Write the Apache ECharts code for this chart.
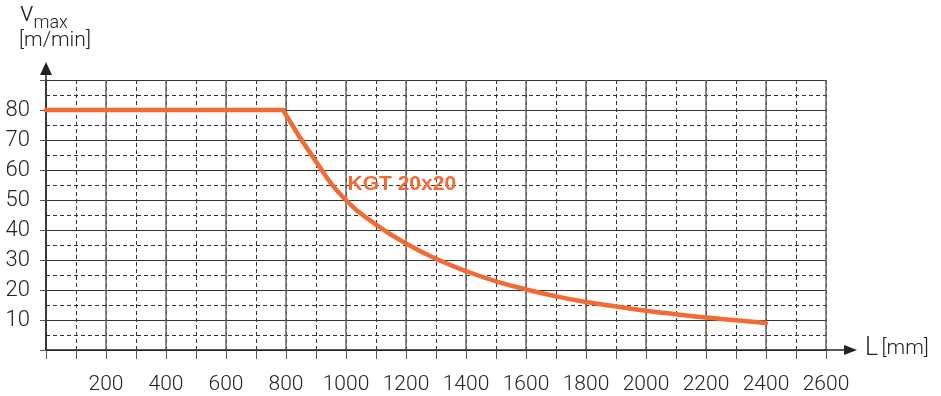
<!DOCTYPE html>
<html lang="en">
<head>
    <meta charset="UTF-8">
    <title>KGT 20x20</title>
    <style>
        body,html{
            margin: 0;
            height: 100%;
            width: 100%;
            background: #fff;
        }
    </style>
</head>
<body>
<div id="main" style="width:941px; height:396px;"></div>
<script src="https://cdn.jsdelivr.net/npm/echarts@6/dist/echarts.min.js"></script>
<script>
    // length L [mm] -> vmax [m/min]
    var flatL = [0, 790];
    var flatV = [80, 80];
    var curveL = [790, 900, 1000, 1100, 1200, 1300, 1400, 1500, 1600, 1700, 1800, 1900, 2000, 2100, 2200, 2300, 2400];
    var curveV = [80, 62.8, 49.9, 41.8, 35.5, 30.4, 26.3, 22.9, 20.2, 17.9, 16.0, 14.5, 13.1, 11.9, 10.8, 9.9, 9.0];
    var seriesName = 'KGT 20x20';
    var xTicks = [200, 400, 600, 800, 1000, 1200, 1400, 1600, 1800, 2000, 2200, 2400, 2600];
    var yTicks = [10, 20, 30, 40, 50, 60, 70, 80];

    var orange = '#F26B35';
    var ink = '#222';
    var font = 'Roboto';

    function pairs(xs, ys) {
        return xs.map(function (x, i) { return [x, ys[i]]; });
    }

    var myChart = echarts.init(document.getElementById('main'));
    myChart.setOption({
        animation: false,
        grid: {left: 46, right: 115, top: 80, bottom: 46},
        xAxis: [
            {
                type: 'value', min: 0, max: 2600, interval: 100,
                axisLine: {show: false},
                axisTick: {show: true, length: 9, lineStyle: {color: '#555', width: 1}},
                axisLabel: {show: false},
                splitLine: {show: true, lineStyle: {color: '#333', type: [4, 3], width: 1}}
            },
            {
                type: 'value', min: 0, max: 2600, interval: 200, position: 'bottom',
                axisLine: {show: true, onZero: false, lineStyle: {color: ink, width: 1.5}},
                axisTick: {show: false},
                axisLabel: {
                    margin: 24, fontSize: 21, fontFamily: font, fontWeight: 300, color: ink,
                    formatter: function (v) { return xTicks.indexOf(v) >= 0 ? String(v) : ''; }
                },
                splitLine: {show: true, lineStyle: {color: '#666', width: 1.5}}
            }
        ],
        yAxis: [
            {
                type: 'value', min: 0, max: 90, interval: 5,
                axisLine: {show: false},
                axisTick: {show: false},
                axisLabel: {show: false},
                splitLine: {show: true, lineStyle: {color: '#333', type: [4, 3], width: 1}}
            },
            {
                type: 'value', min: 0, max: 90, interval: 10, position: 'left',
                axisLine: {show: true, onZero: false, lineStyle: {color: ink, width: 1.5}},
                axisTick: {show: true, length: 6, lineStyle: {color: '#555'}},
                axisLabel: {
                    margin: 16, fontSize: 22, fontFamily: font, fontWeight: 300, color: ink,
                    formatter: function (v) { return yTicks.indexOf(v) >= 0 ? String(v) : ''; }
                },
                splitLine: {show: true, lineStyle: {color: '#333', width: 1}}
            }
        ],
        series: [
            {
                type: 'line', xAxisIndex: 1, yAxisIndex: 1,
                data: pairs(flatL, flatV),
                symbol: 'none',
                lineStyle: {color: orange, width: 4.5, cap: 'round'},
                z: 5
            },
            {
                name: seriesName,
                type: 'line', xAxisIndex: 1, yAxisIndex: 1,
                data: pairs(curveL, curveV),
                smooth: 0.5,
                symbol: 'none',
                lineStyle: {color: orange, width: 4.5, cap: 'round'},
                z: 5,
                markPoint: {
                    symbol: 'circle', symbolSize: 0,
                    data: [{coord: [1005, 55.3]}],
                    label: {
                        show: true, position: 'right', distance: 0,
                        formatter: seriesName,
                        color: orange, fontSize: 21, fontWeight: 'bold', fontFamily: 'Liberation Sans'
                    }
                }
            }
        ]
    });

    // axis arrows and axis titles
    var o = myChart.convertToPixel({xAxisIndex: 1, yAxisIndex: 1}, [0, 0]);
    var xe = myChart.convertToPixel({xAxisIndex: 1, yAxisIndex: 1}, [2600, 90]);
    myChart.setOption({
        graphic: [
            {type: 'line', shape: {x1: xe[0], y1: o[1], x2: xe[0] + 20, y2: o[1]}, style: {stroke: ink, lineWidth: 1.5}},
            {type: 'polygon', shape: {points: [[xe[0] + 18, o[1] - 5], [xe[0] + 31, o[1]], [xe[0] + 18, o[1] + 5]]}, style: {fill: ink}},
            {type: 'line', shape: {x1: o[0], y1: xe[1], x2: o[0], y2: xe[1] - 8}, style: {stroke: ink, lineWidth: 1.5}},
            {type: 'polygon', shape: {points: [[o[0] - 6, xe[1] - 5], [o[0], xe[1] - 18], [o[0] + 6, xe[1] - 5]]}, style: {fill: ink}},
            {
                type: 'text', left: 865, top: 336,
                style: {
                    text: '{a|L} {b|[mm]}',
                    rich: {
                        a: {fontSize: 25, fontFamily: font, fontWeight: 300, fill: ink},
                        b: {fontSize: 21, fontFamily: font, fontWeight: 300, fill: ink}
                    }
                }
            },
            {
                type: 'text', left: 20, top: 0,
                style: {
                    text: '{a|v}{b|max}',
                    rich: {
                        a: {fontSize: 28, fontFamily: font, fontWeight: 300, fill: ink, verticalAlign: 'bottom'},
                        b: {fontSize: 18, fontFamily: font, fontWeight: 300, fill: ink, verticalAlign: 'bottom', padding: [0, 0, -4, 0]}
                    }
                }
            },
            {
                type: 'text', left: 19, top: 30,
                style: {text: '[m/min]', fontSize: 21, fontFamily: font, fontWeight: 300, fill: ink}
            }
        ]
    });
</script>
</body>
</html>
